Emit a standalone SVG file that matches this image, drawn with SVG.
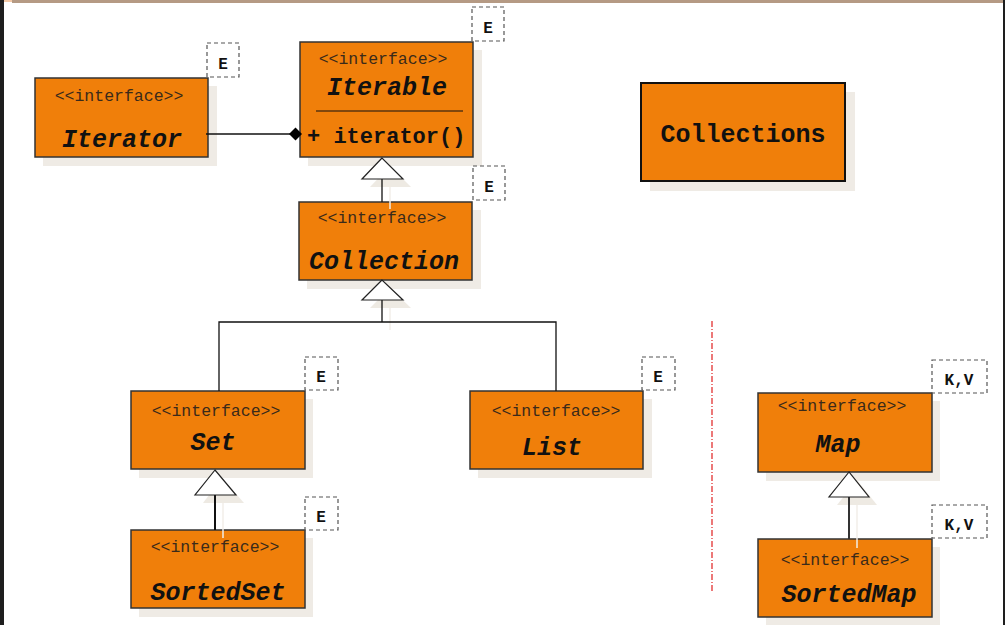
<svg xmlns="http://www.w3.org/2000/svg" width="1005" height="625" viewBox="0 0 1005 625">
<style>
.shadow{fill:#efebe5;stroke:none}
.box{fill:#f07f0a;stroke:#333;stroke-width:1.5}
.ster{font-family:"Liberation Mono",monospace;font-size:16.5px;fill:#3a2a1a;text-anchor:middle}
.name{font-family:"Liberation Mono",monospace;font-size:25px;font-weight:bold;font-style:italic;fill:#111;text-anchor:middle}
.tp{fill:#fff;stroke:#555;stroke-width:1.2;stroke-dasharray:4 3}
.tpt{font-family:"Liberation Mono",monospace;font-size:16px;font-weight:bold;fill:#111;text-anchor:middle}
.ln{stroke:#111;stroke-width:1.3;fill:none}
.tri{fill:#fff;stroke:#222;stroke-width:1.2}
.tris{fill:#eeeae3;stroke:none}
.sl{stroke:#f2eee8;stroke-width:1.5}
</style>
<rect x="0" y="0" width="1005" height="625" fill="#fff"/>
<rect x="0" y="0" width="4" height="625" fill="#1e1e1e"/>
<rect x="1003" y="0" width="2" height="625" fill="#1e1e1e"/>
<rect x="4" y="0" width="8" height="2" fill="#f3c9a8"/>
<rect x="12" y="0" width="991" height="3" fill="#b59a84"/>

<g id="iterator">
<rect class="shadow" x="43" y="86" width="174" height="80"/>
<rect class="box" x="35" y="78" width="173" height="79"/>
<text class="ster" x="119" y="101">&lt;&lt;interface&gt;&gt;</text>
<text class="name" x="122" y="147">Iterator</text>
<rect class="tp" x="207" y="43" width="32" height="34"/>
<text class="tpt" x="223" y="69">E</text>
</g>

<g id="iterable">
<rect class="shadow" x="308" y="50" width="174" height="116"/>
<rect class="box" x="300" y="42" width="173" height="115"/>
<text class="ster" x="383" y="64">&lt;&lt;interface&gt;&gt;</text>
<text class="name" x="387" y="95">Iterable</text>
<line x1="316" y1="111" x2="463" y2="111" stroke="#111" stroke-width="1.2"/>
<text x="307" y="143" font-family="Liberation Mono, monospace" font-size="22" font-weight="bold" fill="#111">+ iterator()</text>
<rect class="tp" x="472" y="7" width="32" height="34"/>
<text class="tpt" x="488" y="33">E</text>
</g>

<g id="collections">
<rect class="shadow" x="650" y="92" width="205" height="99"/>
<rect x="641" y="83" width="204" height="98" fill="#f07f0a" stroke="#111" stroke-width="2"/>
<text x="743" y="142" font-family="Liberation Mono, monospace" font-size="25" font-weight="bold" fill="#111" text-anchor="middle">Collections</text>
</g>

<g id="collection">
<rect class="shadow" x="307" y="210" width="174" height="79"/>
<rect class="box" x="299" y="202" width="173" height="78"/>
<text class="ster" x="382" y="223">&lt;&lt;interface&gt;&gt;</text>
<text class="name" x="384" y="269">Collection</text>
<rect class="tp" x="473" y="166" width="32" height="34"/>
<text class="tpt" x="489" y="192">E</text>
</g>

<g id="set">
<rect class="shadow" x="139" y="399" width="174" height="79"/>
<rect class="box" x="131" y="391" width="174" height="78"/>
<text class="ster" x="216" y="416">&lt;&lt;interface&gt;&gt;</text>
<text class="name" x="213" y="450">Set</text>
<rect class="tp" x="305" y="357" width="33" height="33"/>
<text class="tpt" x="321" y="382">E</text>
</g>

<g id="list">
<rect class="shadow" x="478" y="399" width="174" height="79"/>
<rect class="box" x="470" y="391" width="173" height="78"/>
<text class="ster" x="556" y="416">&lt;&lt;interface&gt;&gt;</text>
<text class="name" x="552" y="455">List</text>
<rect class="tp" x="642" y="357" width="33" height="33"/>
<text class="tpt" x="658" y="382">E</text>
</g>

<g id="sortedset">
<rect class="shadow" x="139" y="538" width="174" height="79"/>
<rect class="box" x="131" y="530" width="174" height="78"/>
<text class="ster" x="215" y="552">&lt;&lt;interface&gt;&gt;</text>
<text class="name" x="218" y="600">SortedSet</text>
<rect class="tp" x="305" y="497" width="33" height="33"/>
<text class="tpt" x="321" y="522">E</text>
</g>

<g id="map">
<rect class="shadow" x="766" y="401" width="174" height="80"/>
<rect class="box" x="758" y="393" width="174" height="79"/>
<text class="ster" x="842" y="411">&lt;&lt;interface&gt;&gt;</text>
<text class="name" x="838" y="452">Map</text>
<rect class="tp" x="932" y="360" width="55" height="33"/>
<text class="tpt" x="959" y="385">K,V</text>
</g>

<g id="sortedmap">
<rect class="shadow" x="766" y="547" width="174" height="78"/>
<rect class="box" x="758" y="539" width="174" height="78"/>
<text class="ster" x="845" y="565">&lt;&lt;interface&gt;&gt;</text>
<text class="name" x="849" y="602">SortedMap</text>
<rect class="tp" x="932" y="505" width="55" height="33"/>
<text class="tpt" x="959" y="530">K,V</text>
</g>

<g id="separator">
<line x1="712" y1="321" x2="712" y2="591" stroke="#e02020" stroke-width="1.2" stroke-dasharray="6 2 1 2"/>
</g>

<g id="connectors">
<polygon class="tris" points="390,166 370,187 411,187"/>
<polygon class="tris" points="390,288 370,308 411,308"/>
<polygon class="tris" points="222,478 203,503 244,503"/>
<polygon class="tris" points="857,480 837,505 877,505"/>
<line class="sl" x1="390" y1="187" x2="390" y2="209"/>
<line class="sl" x1="390" y1="308" x2="390" y2="330"/>
<line class="sl" x1="223" y1="503" x2="223" y2="538"/>
<line class="sl" x1="857" y1="505" x2="857" y2="548"/>
<line class="ln" x1="206" y1="134" x2="290" y2="134"/>
<polygon points="289,134 295.5,127.5 302,134 295.5,140.5" fill="#000"/>
<line class="ln" x1="382" y1="179" x2="382" y2="202"/>
<polygon class="tri" points="382,158 362,179 403,179"/>
<line class="ln" x1="382" y1="300" x2="382" y2="322"/>
<polyline class="ln" points="219,391 219,322 556,322 556,391"/>
<polygon class="tri" points="382,280 362,300 403,300"/>
<line x1="215" y1="495" x2="215" y2="530" stroke="#111" stroke-width="2"/>
<polygon class="tri" points="215,470 195,495 236,495"/>
<line x1="849" y1="497" x2="849" y2="539" stroke="#333" stroke-width="2"/>
<polygon class="tri" points="849,472 829,497 869,497"/>
</g>
</svg>
